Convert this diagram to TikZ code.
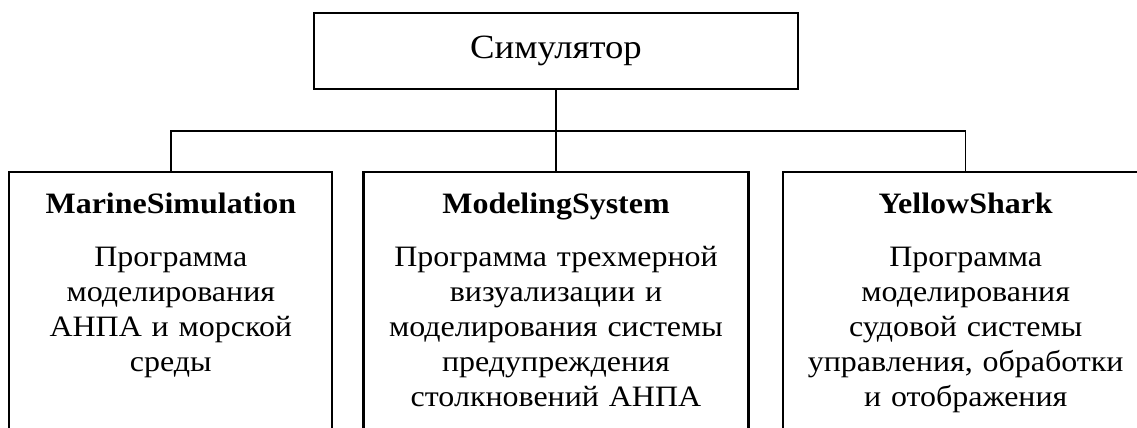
\documentclass[tikz,border=0pt]{standalone}
\usepackage{fontspec}
\setmainfont{Liberation Serif}[FakeStretch=1.08]
\usetikzlibrary{positioning}
\tikzstyle{simbox} = [rectangle, draw=black, line width=1.1pt, minimum width=242pt, minimum height=38.25pt, font=\fontsize{17}{20}\selectfont]
\tikzstyle{progbox} = [rectangle, draw=black, line width=1.1pt, inner sep=0pt, text height=21pt, text depth=130pt, align=center, font=\fontsize{14.8}{17.5}\selectfont]
\tikzstyle{link} = [line width=0.75pt]

\begin{document}
\begin{tikzpicture}

\useasboundingbox (0,0) rectangle (568.5pt,214pt);
\clip (0,0) rectangle (568.5pt,214pt);

\node [simbox] (sim) at (278pt,188.5pt) {Симулятор};

\node [progbox, minimum width=192.5pt, text width=186pt, below=40.25pt of sim] (modsys) {\textbf{ModelingSystem}\\[9pt] Программа трехмерной\\ визуализации и\\ моделирования системы\\ предупреждения\\ столкновений АНПА};
\node [progbox, minimum width=161.5pt, text width=155pt, left=14.5pt of modsys] (marine) {\textbf{MarineSimulation}\\[9pt] Программа\\ моделирования\\ АНПА и морской\\ среды};
\node [progbox, minimum width=183pt, text width=176pt, right=16pt of modsys] (shark) {\textbf{YellowShark}\\[9pt] Программа\\ моделирования\\ судовой системы\\ управления, обработки\\ и отображения};

\coordinate [below=20.25pt of sim] (hub);

\draw [link] (sim.south) -- (hub);
\draw [link] (hub) -| (marine.north);
\draw [link] (hub) -- (modsys.north);
\draw [link] (hub) -| (shark.north);

\end{tikzpicture}
\end{document}
